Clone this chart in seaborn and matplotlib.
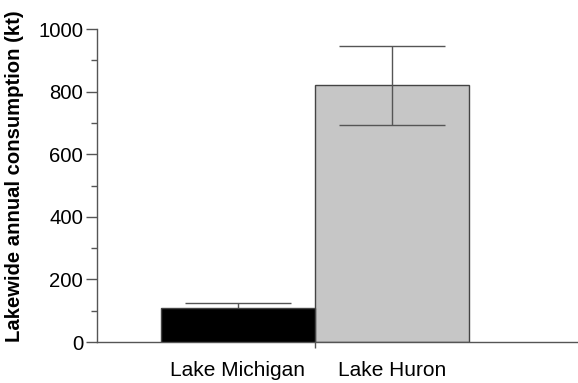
import matplotlib
matplotlib.use("Agg")
import matplotlib.pyplot as plt
import seaborn as sns
import pandas as pd
from matplotlib.ticker import MultipleLocator

# data
lakes = ["Lake Michigan", "Lake Huron"]
consumption = [108, 820]
errors = [17, 125]
bar_colors = ["#000000", "#c6c6c6"]

sns.set_style("ticks")
plt.rcParams["font.family"] = ["Liberation Sans", "DejaVu Sans"]

df = pd.DataFrame({"lake": lakes, "kt": consumption})

fig = plt.figure(figsize=(5.78, 3.83), dpi=100)
ax = fig.add_axes([0.168, 0.107, 0.832, 0.817])

sns.barplot(data=df, x="lake", y="kt", hue="lake", palette=bar_colors,
            width=1.0, edgecolor="#444444", linewidth=1.0, legend=False, ax=ax)
ax.errorbar(range(len(lakes)), consumption, yerr=errors, fmt="none",
            ecolor="#555555", elinewidth=1.0, capsize=38, capthick=1.0, zorder=5)
# the black bar hides the lower half of its own error bar
ax.patches[0].set_zorder(6)

ax.set_xlim(-0.915, 2.21)
ax.set_ylim(0, 1000)
ax.yaxis.set_major_locator(MultipleLocator(200))
ax.yaxis.set_minor_locator(MultipleLocator(100))

# category labels as minor ticks, single major tick between the bars
ax.set_xticks([0.5])
ax.set_xticklabels([""])
ax.set_xticks([0, 1], minor=True)
ax.set_xticklabels(lakes, minor=True)
ax.tick_params(axis="x", which="major", length=8, width=1, color="#555555", direction="inout")
ax.tick_params(axis="x", which="minor", length=0, pad=14, labelsize=15, labelcolor="black")
ax.tick_params(axis="y", which="major", length=8, width=1, color="#555555", pad=2,
               labelsize=14.6, labelcolor="black")
ax.tick_params(axis="y", which="minor", length=4, width=1, color="#555555")

for s in ["top", "right"]:
    ax.spines[s].set_visible(False)
for s in ["left", "bottom"]:
    ax.spines[s].set_color("#555555")
    ax.spines[s].set_linewidth(1.0)

ax.set_xlabel("")
ax.set_ylabel("Lakewide annual consumption (kt)", fontsize=14.6, fontweight="bold", color="black")
ax.yaxis.set_label_coords(-0.152, 0.53)

fig.savefig("out.png", dpi=100)
